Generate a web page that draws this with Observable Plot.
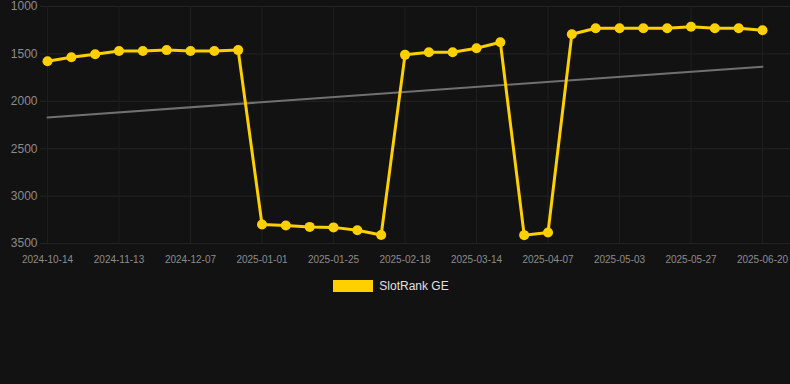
<!DOCTYPE html>
<html>
<head>
<meta charset="utf-8">
<script src="https://cdn.jsdelivr.net/npm/d3@7"></script>
<script src="https://cdn.jsdelivr.net/npm/@observablehq/plot@0.6"></script>
<style>
  html, body { margin: 0; padding: 0; background: #121212; }
  body { width: 790px; height: 384px; overflow: hidden; font-family: "Liberation Sans", Arial, sans-serif; }
  #legend { display: flex; justify-content: center; align-items: center; margin-top: 9px; padding-right: 8px; color: #e0e0e0; font-size: 12px; }
  #legend .sw { width: 40px; height: 12px; background: #FFD000; margin-right: 6px; }
</style>
</head>
<body>
<div id="chart"></div>
<div id="legend"><span class="sw"></span><span>SlotRank GE</span></div>
<script>
const dates = [
  "2024-10-14","2024-10-24","2024-11-03","2024-11-13","2024-11-21","2024-11-29",
  "2024-12-07","2024-12-15","2024-12-23","2025-01-01","2025-01-09","2025-01-17",
  "2025-01-25","2025-02-02","2025-02-10","2025-02-18","2025-02-26","2025-03-06",
  "2025-03-14","2025-03-22","2025-03-30","2025-04-07","2025-04-16","2025-04-25",
  "2025-05-03","2025-05-11","2025-05-19","2025-05-27","2025-06-04","2025-06-12",
  "2025-06-20"
];
const ranks = [
  1577, 1535, 1503, 1470, 1470, 1460, 1470, 1470, 1460,
  3300, 3310, 3325, 3330, 3360, 3410,
  1510, 1482, 1482, 1440, 1377,
  3412, 3384,
  1292, 1229, 1229, 1229, 1229, 1214, 1229, 1229, 1250
];
const tickLabels = ["2024-10-14","2024-11-13","2024-12-07","2025-01-01","2025-01-25","2025-02-18","2025-03-14","2025-04-07","2025-05-03","2025-05-27","2025-06-20"];
const yTicks = [1000, 1500, 2000, 2500, 3000, 3500];
const trendDates = ["2024-10-14", "2025-06-20"];
const trendRanks = [2170, 1635];

const data = dates.map((d, i) => ({date: d, rank: ranks[i]}));
const trend = trendDates.map((d, i) => ({date: d, rank: trendRanks[i]}));

const chart = Plot.plot({
  width: 790,
  height: 270,
  marginTop: 6,
  marginBottom: 27,
  marginLeft: 40,
  marginRight: 0,
  style: { background: "#121212", fontFamily: "Liberation Sans, Arial, sans-serif" },
  x: { type: "point", domain: dates, padding: 0.734, align: 0.2, round: false },
  y: { domain: [1000, 3500], reverse: true },
  marks: [
    Plot.gridY(yTicks, { stroke: "#232323", strokeOpacity: 1 }),
    Plot.gridX(tickLabels, { stroke: "#1e1e1e", strokeOpacity: 1 }),
    Plot.axisY(yTicks, { tickSize: 0, tickPadding: 3, fontSize: 12, fill: "#8c8c8c", label: null, tickFormat: d => String(d) }),
    Plot.axisX(tickLabels, { tickSize: 0, tickPadding: 12, fontSize: 10, fill: "#8c8c8c", label: null }),
    Plot.line(trend, { x: "date", y: "rank", stroke: "#707070", strokeWidth: 2 }),
    Plot.line(data, { x: "date", y: "rank", stroke: "#FFD000", strokeWidth: 3 }),
    Plot.dot(data, { x: "date", y: "rank", r: 5, fill: "#FFD000", stroke: "none" })
  ]
});
document.getElementById("chart").appendChild(chart);
</script>
</body>
</html>
